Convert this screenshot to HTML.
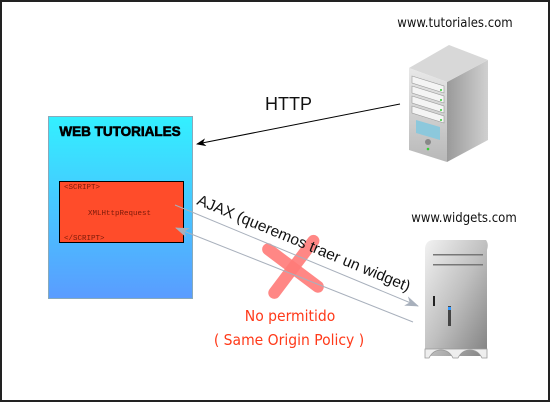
<!DOCTYPE html>
<html><head><meta charset="utf-8"><style>
html,body{margin:0;padding:0;background:#fff}
svg{display:block}
</style></head><body>
<svg width="550" height="402" viewBox="0 0 550 402" xmlns="http://www.w3.org/2000/svg">
<defs>
<linearGradient id="bg" x1="0" y1="0" x2="0" y2="1">
<stop offset="0" stop-color="#33f0ff"/><stop offset="1" stop-color="#5a9cff"/>
</linearGradient>
<linearGradient id="side" x1="0" y1="0" x2="1" y2="0">
<stop offset="0" stop-color="#9a9a9a"/><stop offset="1" stop-color="#d0d0d0"/>
</linearGradient>
<linearGradient id="front" x1="0" y1="0" x2="0" y2="1">
<stop offset="0" stop-color="#e8e8e8"/><stop offset="1" stop-color="#b8b8b8"/>
</linearGradient>
<linearGradient id="mac" x1="0" y1="0" x2="1" y2="1">
<stop offset="0" stop-color="#f2f2f2"/><stop offset="0.5" stop-color="#c0c0c0"/><stop offset="1" stop-color="#808080"/>
</linearGradient>
<marker id="ab" markerWidth="10" markerHeight="8" refX="9" refY="4" orient="auto" markerUnits="userSpaceOnUse"><path d="M0,0 L10,4 L0,8 L3,4z" fill="#000"/></marker>
<marker id="ag" markerWidth="14" markerHeight="10" refX="13" refY="5" orient="auto" markerUnits="userSpaceOnUse"><path d="M0,0 L14,5 L0,10 L4,5z" fill="#a8b0bc"/></marker>
</defs>
<rect x="1" y="1" width="548" height="400" fill="#fff" stroke="#222" stroke-width="2"/>
<rect x="48.5" y="116.5" width="144" height="182" fill="url(#bg)" stroke="#8ab" stroke-width="1"/>
<text x="120" y="136" text-anchor="middle" font-family="Liberation Sans, sans-serif" font-weight="bold" font-size="13.5" fill="#000" stroke="#000" stroke-width="0.6">WEB TUTORIALES</text>
<rect x="59.5" y="181.5" width="124" height="61" fill="#ff4c2a" stroke="#000" stroke-width="1"/>
<g font-family="Liberation Mono, monospace" font-size="7.5" fill="#7a1a0a">
<text x="64" y="189">&lt;SCRIPT&gt;</text>
<text x="88" y="215">XMLHttpRequest</text>
<text x="64" y="240">&lt;/SCRIPT&gt;</text>
</g>
<line x1="400" y1="104" x2="197" y2="144" stroke="#000" stroke-width="1" marker-end="url(#ab)"/>
<text x="265" y="110" font-family="Liberation Sans, sans-serif" font-size="18" fill="#111">HTTP</text>
<g transform="translate(293,268) rotate(-8)">
<path d="M-22,-22 L22,22" stroke="#ff7b78" stroke-width="12" stroke-linecap="round" opacity="0.9"/>
<path d="M24,-24 L-22,22" stroke="#ff7b78" stroke-width="12" stroke-linecap="round" opacity="0.9"/>
</g>
<line x1="175" y1="205" x2="418" y2="306" stroke="#a8b0bc" stroke-width="1" marker-end="url(#ag)"/>
<line x1="413" y1="322" x2="176" y2="228" stroke="#a8b0bc" stroke-width="1" marker-end="url(#ag)"/>
<text transform="translate(196,204) rotate(22.5)" font-family="Liberation Sans, sans-serif" font-size="15.5" fill="#111">AJAX (queremos traer un widget)</text>
<g font-family="DejaVu Sans Condensed, Liberation Sans Narrow, sans-serif" font-size="15.5" fill="#ff3a1a">
<text x="290" y="321" text-anchor="middle">No permitido</text>
<text x="289" y="345" text-anchor="middle">( Same Origin Policy )</text>
</g>
<g font-family="DejaVu Sans Condensed, Liberation Sans Narrow, sans-serif" font-size="13" fill="#111">
<text x="455" y="27" text-anchor="middle">www.tutoriales.com</text>
<text x="464" y="222" text-anchor="middle">www.widgets.com</text>
</g>
<path d="M447,82 L488,60 L488,140 L447,162z" fill="url(#side)"/>
<path d="M409,68 L449,45 L488,60 L447,82z" fill="#d8d8d8"/>
<path d="M409,68 L447,82 L447,162 L409,150z" fill="url(#front)"/>
<path d="M412,76 L444,86 L444,93 L412,83z M412,86 L444,96 L444,103 L412,93z M412,96 L444,106 L444,113 L412,103z M412,106 L444,116 L444,123 L412,113z" fill="#f4f4f4" stroke="#999" stroke-width="0.6"/>
<path d="M416,120 L440,127 L440,140 L416,133z" fill="#8cc8dc"/>
<circle cx="428" cy="142" r="3" fill="#888"/>
<circle cx="428" cy="149" r="1.3" fill="#3c3"/>
<g fill="#3c3"><circle cx="441" cy="90" r="1"/><circle cx="441" cy="100" r="1"/><circle cx="441" cy="110" r="1"/><circle cx="441" cy="120" r="1"/></g>
<!-- mac pro -->
<path d="M425,248 Q426,240 434,240 L486,240 Q489,244 487,250 L487,356 L425,356z" fill="url(#mac)"/>
<path d="M425,349 L487,349 L487,358 L482,358 Q478,350 470,350 Q462,350 458,358 L453,358 Q449,350 441,350 Q433,350 429,358 L425,358z" fill="#eee" stroke="#999" stroke-width="0.8"/>
<rect x="433" y="254" width="50" height="1.5" fill="#777"/>
<rect x="433" y="264" width="50" height="1.5" fill="#777"/>
<rect x="433" y="296" width="2" height="10" fill="#222"/>
<rect x="448" y="306" width="3" height="20" fill="#444"/>
<rect x="448" y="307" width="3" height="3" fill="#39f"/>
</svg>
</body></html>
